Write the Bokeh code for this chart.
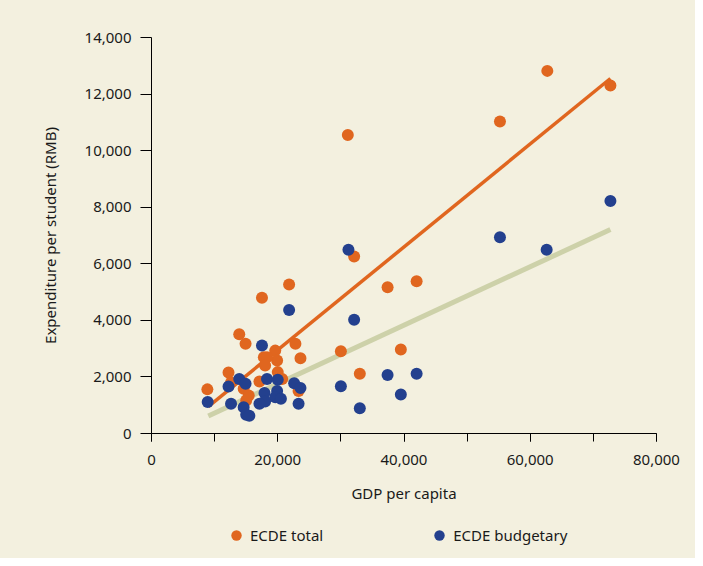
from bokeh.plotting import figure
from bokeh.models import (SingleIntervalTicker, NumeralTickFormatter, Legend, LegendItem)
from bokeh.layouts import column
from bokeh.embed import file_html
from bokeh.resources import INLINE

# GDP per capita (RMB) and expenditure per student (RMB)
total_gdp = [8850, 12200, 12600, 13900, 14900, 17500, 21800, 31100, 32100, 37400, 42000,
             55200, 62700, 72700, 30000, 39500, 33000, 22800, 23600, 23300, 19600, 19900,
             17800, 18300, 18000, 20000, 20700, 17100, 14600, 15400, 15000]
total_exp = [1560, 2160, 1800, 3510, 3170, 4800, 5270, 10550, 6260, 5170, 5380,
             11030, 12820, 12300, 2910, 2970, 2110, 3170, 2660, 1500, 2930, 2580,
             2700, 2700, 2400, 2170, 1930, 1840, 1580, 1340, 1170]

budget_gdp = [21800, 17500, 13900, 14900, 12200, 8900, 12600, 18300, 20000, 22600, 23600,
              17900, 19900, 19600, 20500, 18000, 17100, 14600, 15000, 15500, 23300, 30000,
              31200, 32100, 37400, 42000, 39500, 33000, 55200, 62600, 72700]
budget_exp = [4370, 3110, 1930, 1760, 1660, 1110, 1050, 1930, 1900, 1780, 1610,
              1430, 1500, 1280, 1230, 1130, 1050, 930, 660, 630, 1050, 1670,
              6500, 4020, 2070, 2110, 1380, 890, 6940, 6500, 8220]

# Fitted trend lines (end values)
trend_gdp = [9000, 72700]
trend_total = [950, 12550]
trend_budget = [620, 7210]

series_names = ["ECDE total", "ECDE budgetary"]

BG = "#F3F0DF"
ORANGE = "#E0661F"
BLUE = "#23408E"
GREEN = "#CDD1A9"
FONT = "Noto Sans"
TXT = "#1A1A1A"

p = figure(frame_width=505, frame_height=396, output_backend="svg", toolbar_location=None,
           x_range=(0, 80000), y_range=(0, 14000),
           background_fill_color=BG, border_fill_color=BG,
           min_border_left=151, min_border_right=39, min_border_top=37, min_border_bottom=80,
           styles={"background-color": BG})
p.outline_line_color = None
p.xgrid.visible = False
p.ygrid.visible = False

p.line(trend_gdp, trend_budget, line_color=GREEN, line_width=5)
p.line(trend_gdp, trend_total, line_color=ORANGE, line_width=3.5)

p.scatter(total_gdp, total_exp, size=12, fill_color=ORANGE, line_color=None)
p.scatter(budget_gdp, budget_exp, size=12, fill_color=BLUE, line_color=None)

# x axis
xa = p.xaxis[0]
xa.ticker = SingleIntervalTicker(interval=20000, num_minor_ticks=2)
xa.formatter = NumeralTickFormatter(format="0,0")
xa.major_tick_in = 0
xa.major_tick_out = 8
xa.minor_tick_in = 0
xa.minor_tick_out = 8
xa.minor_tick_line_color = "black"
xa.major_tick_line_color = "black"
xa.axis_line_color = "black"
xa.major_label_standoff = 13
xa.axis_label = "GDP per capita"
xa.axis_label_standoff = 15

# y axis
ya = p.yaxis[0]
ya.ticker = SingleIntervalTicker(interval=2000, num_minor_ticks=0)
ya.formatter = NumeralTickFormatter(format="0,0")
ya.major_tick_in = 0
ya.major_tick_out = 11
ya.minor_tick_line_color = None
ya.major_tick_line_color = "black"
ya.axis_line_color = "black"
ya.major_label_standoff = 9
ya.axis_label = "Expenditure per student (RMB)"
ya.axis_label_standoff = 22

for ax in (xa, ya):
    ax.major_label_text_font = FONT
    ax.major_label_text_font_size = "15px"
    ax.major_label_text_color = TXT
    ax.axis_label_text_font = FONT
    ax.axis_label_text_font_size = "15px"
    ax.axis_label_text_font_style = "normal"
    ax.axis_label_text_color = TXT

# Legend strip below the chart (frame aligned with the main chart)
lf = figure(frame_width=505, frame_height=45, output_backend="svg", toolbar_location=None,
            x_range=(0, 1), y_range=(0, 1),
            background_fill_color=BG, border_fill_color=BG,
            min_border_left=151, min_border_right=39, min_border_top=0, min_border_bottom=0,
            styles={"background-color": BG})
lf.axis.visible = False
lf.grid.visible = False
lf.outline_line_color = None
lt = lf.scatter([-5], [-5], size=12, fill_color=ORANGE, line_color=None)
lb = lf.scatter([-5], [-5], size=12, fill_color=BLUE, line_color=None)

legend = Legend(items=[LegendItem(label=series_names[0], renderers=[lt]),
                       LegendItem(label=series_names[1], renderers=[lb])],
                orientation="horizontal", location=(72, 10),
                background_fill_alpha=0, border_line_color=None,
                glyph_width=26, glyph_height=26, label_standoff=1, spacing=103,
                label_text_font=FONT, label_text_font_size="15px", label_text_color=TXT,
                margin=0, padding=6)
lf.add_layout(legend)

layout = column(p, lf, spacing=0, styles={"background-color": BG})
open("out.html", "w").write(file_html(layout, INLINE))
